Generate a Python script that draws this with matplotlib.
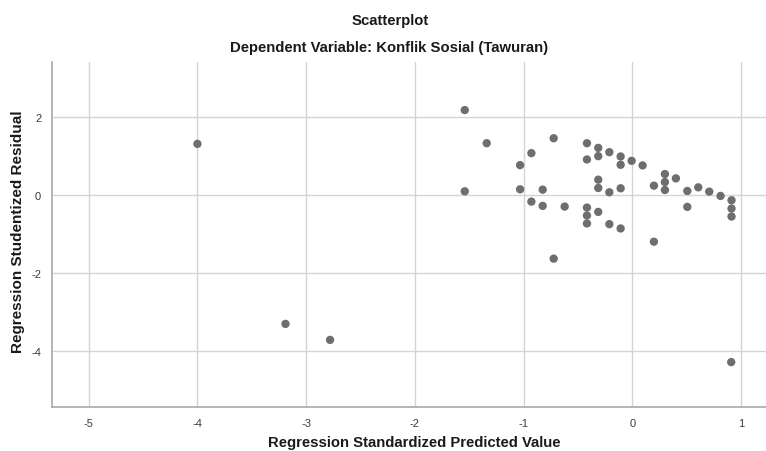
import matplotlib
matplotlib.use("Agg")
import matplotlib.pyplot as plt

plt.rcParams['font.family'] = ['Liberation Sans', 'DejaVu Sans']

predicted = [-4.00, -3.19, -2.78, 0.91,
             -1.541, -1.339, -0.723, -0.928, -1.032, -1.541, -1.032, -0.824,
             -0.928, -0.824, -0.622, -0.723, -0.417, -0.417, -0.313, -0.313,
             -0.211, -0.107, -0.107, -0.006, 0.095, -0.313, -0.313, -0.211,
             -0.107, -0.417, -0.417, -0.417, -0.313, -0.211, -0.107, 0.199,
             0.199, 0.300, 0.300, 0.300, 0.401, 0.506, 0.506, 0.607, 0.708,
             0.812, 0.913, 0.913, 0.913]
residual = [1.32, -3.30, -3.71, -4.28,
            2.187, 1.336, 1.464, 1.081, 0.774, 0.102, 0.153, 0.145,
            -0.162, -0.272, -0.289, -1.626, 1.336, 0.919, 1.217, 1.004,
            1.106, 0.996, 0.783, 0.885, 0.766, 0.400, 0.187, 0.077,
            0.179, -0.315, -0.519, -0.723, -0.426, -0.740, -0.851, -1.191,
            0.247, 0.545, 0.340, 0.136, 0.434, 0.111, -0.298, 0.204, 0.094,
            -0.017, -0.128, -0.340, -0.545]

x_ticks = [-5, -4, -3, -2, -1, 0, 1]
y_ticks = [-4, -2, 0, 2]

W, H = 766, 452
fig = plt.figure(figsize=(W / 100, H / 100), dpi=100)
left, right, top, bottom = 52.3, 766, 63, 408.3
ax = fig.add_axes([left / W, (H - bottom) / H, (right - left) / W, (bottom - top) / H])

ax.scatter(predicted, residual, s=36, color='#6e6e6e', edgecolors='none', zorder=3)

ax.set_xlim(-5.335, 1.23)
ax.set_ylim(-5.44, 3.42)
ax.set_xticks(x_ticks)
ax.set_yticks(y_ticks)
ax.set_xticklabels([str(v) for v in x_ticks])
ax.set_yticklabels([str(v) for v in y_ticks])
ax.grid(True, color='#d4d4d4', linewidth=1.0, zorder=0)
ax.tick_params(length=0, labelsize=8, colors='#3a3a3a', pad=8)
for s in ['top', 'right']:
    ax.spines[s].set_visible(False)
for s in ['left', 'bottom']:
    ax.spines[s].set_color('#a8a8a8')
    ax.spines[s].set_linewidth(1.2)

fig.text(390 / W, 1 - 21 / H, 'Scatterplot', ha='center', va='center',
         fontsize=10.7, fontweight='bold', color='#1a1a1a')
fig.text(389 / W, 1 - 48 / H, 'Dependent Variable: Konflik Sosial (Tawuran)',
         ha='center', va='center', fontsize=10.7, fontweight='bold', color='#1a1a1a')
fig.text(414 / W, 1 - 443 / H, 'Regression Standardized Predicted Value',
         ha='center', va='center', fontsize=10.75, fontweight='bold', color='#1a1a1a')
fig.text(18 / W, 1 - 232 / H, 'Regression Studentized Residual', ha='center',
         va='center', rotation=90, fontsize=11, fontweight='bold', color='#1a1a1a')

fig.savefig('out.png', dpi=100)
